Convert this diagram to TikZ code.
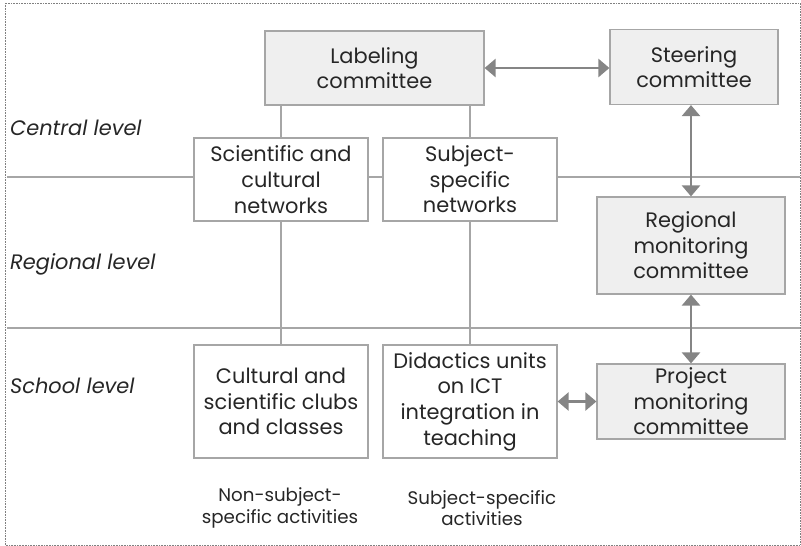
\documentclass[tikz,border=0pt]{standalone}
\usepackage{fontspec}
\setmainfont{Poppins}
\usetikzlibrary{arrows.meta}
\definecolor{boxline}{HTML}{A6A6A6}
\definecolor{boxfill}{HTML}{EFEFEF}
\definecolor{arrowc}{HTML}{858585}
\definecolor{txt}{HTML}{262626}
\begin{document}
\begin{tikzpicture}[x=1bp,y=-1bp,
  box/.style={draw=boxline, line width=1.2bp, align=center, inner sep=0pt,
    font=\fontsize{21}{25.7}\selectfont, text=txt, fill=white},
  graybox/.style={box, fill=boxfill},
  link/.style={draw=boxline, line width=1.2bp},
  twoway/.style={draw=arrowc, line width=2.5bp, {Triangle[length=11bp,width=18bp]}-{Triangle[length=11bp,width=18bp]}},
  level/.style={anchor=west, font=\fontsize{21}{25}\selectfont\itshape, text=txt, inner sep=0pt},
  note/.style={align=center, font=\fontsize{18.3}{21.5}\selectfont, text=txt, inner sep=0pt}]
\useasboundingbox (0,0) rectangle (801,546);
\draw[densely dotted, gray, line width=0.6bp] (5,3) rectangle (800,545);
% level separators
\coordinate (l1a) at (7,177); \coordinate (l1b) at (800,177);
\coordinate (l2a) at (7,328); \coordinate (l2b) at (800,328);
\draw[link] (l1a) -- (l1b);
\draw[link] (l2a) -- (l2b);
% nodes
\node[graybox, minimum width=219bp, minimum height=74bp] (lab) at (374.5,68) {Labeling\\committee};
\node[graybox, minimum width=168bp, minimum height=75bp] (steer) at (694,67) {Steering\\committee};
\node[box, minimum width=174bp, minimum height=83bp] (sci) at (281,179.5) {Scientific and\\cultural\\networks};
\node[box, minimum width=174bp, minimum height=83bp] (subj) at (470,179.5) {Subject-\\specific\\networks};
\node[graybox, minimum width=188bp, minimum height=97bp] (reg) at (691,245.5) {Regional\\monitoring\\committee};
\node[graybox, minimum width=188bp, minimum height=75bp] (proj) at (691,401.5) {Project\\monitoring\\committee};
\node[box, minimum width=174bp, minimum height=113bp] (cult) at (281,401.5) {Cultural and\\scientific clubs\\and classes};
\node[box, minimum width=174bp, minimum height=113bp] (did) at (470,401.5) {Didactics units\\on ICT\\integration in\\teaching};
% level labels
\node[level] (central) at (10,128) {Central level};
\node[level] (regional) at (10,264) {Regional level};
\node[level] (school) at (10,386) {School level};
% activity labels
\node[note] (nonsub) at (280,508) {Non-subject-\\specific activities};
\node[note] (subact) at (482,508) {Subject-specific\\activities};
% connectors
\draw[link] (sci.north |- lab.south) -- (sci.north);
\draw[link] (subj.north |- lab.south) -- (subj.north);
\draw[link] (sci.south) -- (cult.north);
\draw[link] (subj.south) -- (did.north);
\draw[twoway] (lab.east) -- (lab.east -| steer.west);
\draw[twoway] (reg.north |- steer.south) -- (reg.north);
\draw[twoway] (reg.south) -- (proj.north);
\draw[twoway] (did.east) -- (proj.west);
\end{tikzpicture}
\end{document}
